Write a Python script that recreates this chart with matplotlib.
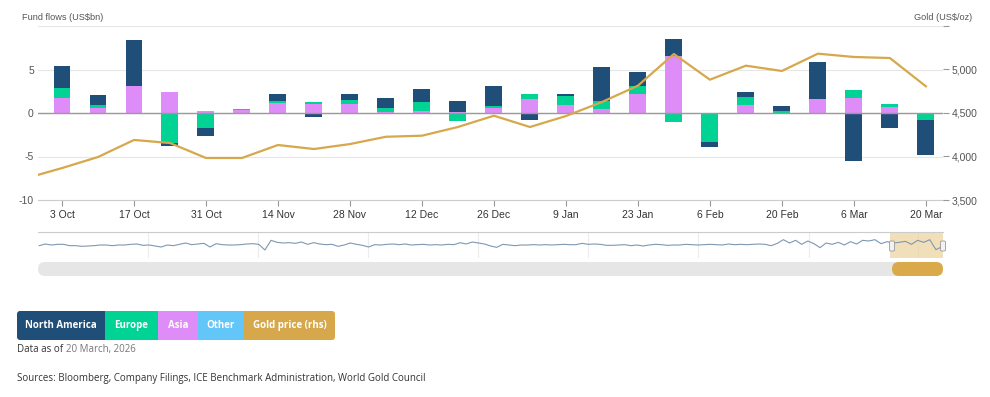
"""Weekly gold ETF fund flows by region with the gold price."""

import matplotlib

matplotlib.use("Agg")
import matplotlib.dates as mdates
import matplotlib.pyplot as plt
import numpy as np
import pandas as pd
from matplotlib.patches import FancyBboxPatch, Rectangle

# weekly flows, US$bn
weeks = pd.to_datetime([
    "2025-10-03", "2025-10-10", "2025-10-17", "2025-10-24", "2025-10-31",
    "2025-11-07", "2025-11-14", "2025-11-21", "2025-11-28",
    "2025-12-05", "2025-12-12", "2025-12-19", "2025-12-26",
    "2026-01-02", "2026-01-09", "2026-01-16", "2026-01-23", "2026-01-30",
    "2026-02-06", "2026-02-13", "2026-02-20", "2026-02-27",
    "2026-03-06", "2026-03-13", "2026-03-20",
])
north_america = [2.6, 1.16, 5.38, -0.35, -1.0, -0.15, 0.73, -0.42, 0.77, 1.15, 1.5, 1.35, 2.24,
                 -0.8, 0.19, 3.92, 1.5, 1.88, -0.65, 0.61, 0.5, 4.23, -5.54, -1.69, -4.0]
europe = [1.12, 0.38, 0.0, -3.42, -1.7, 0.1, 0.3, 0.2, 0.46, 0.42, 1.07, -0.92, 0.24,
          0.54, 1.0, 0.96, 0.92, -0.96, -3.23, 0.85, 0.22, 0.0, 0.92, 0.39, -0.77]
asia = [1.65, 0.5, 3.0, 2.42, 0.27, 0.4, 1.08, 1.08, 0.96, 0.08, 0.2, 0.05, 0.54,
        1.62, 0.92, 0.38, 2.19, 6.58, -0.08, 0.96, 0.05, 1.62, 1.73, 0.69, -0.05]
other = [0.05, 0.03, 0.05, 0.05, 0.0, 0.0, 0.05, 0.0, 0.03, 0.05, 0.0, 0.03, 0.05,
         0.03, 0.02, 0.03, 0.05, -0.05, 0.0, 0.0, 0.0, 0.03, 0.0, 0.0, 0.0]

# gold price, US$/oz (starts one week before the first flow week)
gold_dates = pd.to_datetime(["2025-09-26"]).append(weeks)
gold_price = [3750, 3867, 3994, 4190, 4155, 3983, 3983, 4132, 4086, 4143, 4227, 4239, 4339,
              4469, 4339, 4465, 4626, 4814, 5178, 4883, 5044, 4983, 5182, 5144, 5132, 4807]

# navigator overview line (total flows, rough reading, Jan 2018 - Mar 2026)
nav_flows = [
    -2, 3, 0, 2, 2, -2, -2, -4, -3, -2, 0, 0, -2, 0, 0, 2, 3, -1, 0, -3, -6, 0, -2, 2,
    6, 1, 3, 5, -6, 4, 1, 0, 0, 1, 3, 4, 2, -15, 14, 8, 6, 7, 5, 9, 2, 7, 3,
    1, 2, -4, 0, 6, 2, -1, -6, 1, 0, 2, 3, 1, 3, 0, 1, 2, 0, 1, 0, 2, 1, 7, 3,
    9, 6, 3, -3, -7, 2, 0, -2, 0, 0, 1, 0, 1, 0, 1, 2, 1, 1, 5, 2, 3, 2, -1, -1,
    0, 1, -2, 0, -3, 0, 2, 1, -1, 0, 0, 2, 1, 0, 1, 2, 1, 0, 3, 1, 2, 1, 2, 3,
    2, -2, 5, 16, 6, 14, 2, 12, 4, -8, 6, 2, 8, 0, 10, 3, 14, 12, 16, 4, 10, 6,
    8, 11, 2, 14, 8, 16, -14, -5,
]
nav_dates = pd.date_range("2018-01-05", "2026-03-20", periods=len(nav_flows))

legend_labels = ["North America", "Europe", "Asia", "Other", "Gold price (rhs)"]

C_NA = "#1f4e79"
C_EU = "#00d394"
C_ASIA = "#de8cf8"
C_OTHER = "#62c6f9"
C_GOLD = "#d6a84b"

W, H = 990, 397
FOOT_FONT = ["Open Sans", "DejaVu Sans"]


def fx(px):
    return px / W


def fy(py):
    return 1 - py / H


def main():
    plt.rcParams["font.family"] = ["Liberation Sans", "DejaVu Sans"]
    fig = plt.figure(figsize=(W / 100, H / 100), dpi=100)

    x0, x1 = 38, 943
    ax = fig.add_axes([fx(x0), fy(200), fx(x1) - fx(x0), fy(26) - fy(200)])
    ax2 = ax.twinx()

    xs = mdates.date2num(weeks)
    series = [(other, C_OTHER), (asia, C_ASIA), (europe, C_EU), (north_america, C_NA)]
    pos_base = np.zeros(len(xs))
    neg_base = np.zeros(len(xs))
    for vals, col in series:
        v = np.asarray(vals, dtype=float)
        pos = np.where(v > 0, v, 0)
        neg = np.where(v < 0, v, 0)
        ax.bar(xs, pos, bottom=pos_base, width=3.3, color=col, linewidth=0, zorder=3)
        ax.bar(xs, neg, bottom=neg_base, width=3.3, color=col, linewidth=0, zorder=3)
        pos_base += pos
        neg_base += neg

    ax.set_ylim(-10, 10)
    ax.set_yticks([-10, -5, 0, 5, 10])
    ax.set_yticklabels(["-10", "-5", "0", "5", ""])
    ax.grid(axis="y", color="#e6e6e6", linewidth=0.8, zorder=0)
    ax.axhline(0, color="#9a9a9a", linewidth=1.0, zorder=4)
    ax.set_xlim(mdates.date2num(pd.Timestamp("2025-09-28 08:00")),
                mdates.date2num(pd.Timestamp("2026-03-23 08:00")))
    ax.set_xticks(xs[::2])
    ax.set_xticklabels([f"{d.day} {d:%b}" for d in weeks[::2]])
    for side in ["top", "left", "right"]:
        ax.spines[side].set_visible(False)
    ax.spines["bottom"].set_color("#cccccc")
    ax.tick_params(axis="x", length=4, color="#999999", labelsize=7.5, labelcolor="#333333", pad=3)
    ax.tick_params(axis="y", length=0, labelsize=7.5, labelcolor="#555555", pad=3)

    ax2.plot(mdates.date2num(gold_dates), gold_price, color=C_GOLD, linewidth=1.6, zorder=5)
    ax2.set_ylim(3500, 5500)
    ax2.set_yticks([3500, 4000, 4500, 5000, 5500])
    ax2.set_yticklabels(["3,500", "4,000", "4,500", "5,000", ""])
    ax2.tick_params(axis="y", length=4, color="#999999", labelsize=7.5, labelcolor="#555555", pad=2)
    for side in ["top", "left", "right", "bottom"]:
        ax2.spines[side].set_visible(False)
    # keep the gold line above the bars
    ax2.set_zorder(ax.get_zorder() + 1)
    ax2.patch.set_visible(False)

    fig.text(fx(22), fy(17), "Fund flows (US$bn)", fontsize=6.6, color="#555555", va="center")
    fig.text(fx(972), fy(17), "Gold (US$/oz)", fontsize=6.6, color="#555555", va="center", ha="right")

    # navigator
    nav = fig.add_axes([fx(x0), fy(258), fx(x1) - fx(x0), fy(232) - fy(258)])
    nav.plot(mdates.date2num(nav_dates), nav_flows, color="#7f98b0", linewidth=0.8)
    nav.set_xlim(mdates.date2num(pd.Timestamp("2018-01-01")),
                 mdates.date2num(pd.Timestamp("2026-03-23 08:00")))
    nav.set_ylim(-39, 39)
    years = pd.date_range("2019-01-01", "2026-01-01", freq="YS")
    for y in years:
        nav.axvline(mdates.date2num(y), color="#ececec", linewidth=0.8, zorder=0)
    nav.set_xticks([])
    nav.set_yticks([])
    for side in ["left", "right", "bottom"]:
        nav.spines[side].set_visible(False)
    nav.spines["top"].set_color("#cccccc")
    sel0, sel1 = ax.get_xlim()
    nav.axvspan(sel0, sel1, color="#e9cf94", alpha=0.65, linewidth=0)

    # navigator handles
    for hx in (892, 943):
        fig.patches.append(FancyBboxPatch(
            ((hx - 2.5) / 100, (H - 251) / 100), 5 / 100, 10 / 100,
            boxstyle="round,pad=0,rounding_size=0.012", transform=fig.dpi_scale_trans,
            facecolor="#f2f2f2", edgecolor="#999999", linewidth=0.6, zorder=10))

    # scrollbar
    fig.patches.append(FancyBboxPatch(
        (x0 / 100, (H - 276) / 100), (x1 - x0) / 100, 14 / 100,
        boxstyle="round,pad=0,rounding_size=0.07", transform=fig.dpi_scale_trans,
        facecolor="#e6e6e6", edgecolor="none"))
    fig.patches.append(FancyBboxPatch(
        (892 / 100, (H - 276) / 100), (943 - 892) / 100, 14 / 100,
        boxstyle="round,pad=0,rounding_size=0.07", transform=fig.dpi_scale_trans,
        facecolor="#d9a94a", edgecolor="none"))

    # legend buttons
    edges = [17, 105, 158, 198, 244, 335]
    colors = [C_NA, C_EU, C_ASIA, C_OTHER, C_GOLD]
    top, bot = 311, 340
    for i, (lab, col) in enumerate(zip(legend_labels, colors)):
        left, right = edges[i], edges[i + 1]
        if i in (0, len(colors) - 1):
            fig.patches.append(FancyBboxPatch(
                (left / 100, (H - bot) / 100), (right - left) / 100, (bot - top) / 100,
                boxstyle="round,pad=0,rounding_size=0.03", transform=fig.dpi_scale_trans,
                facecolor=col, edgecolor="none"))
            inner = (right - 5, right) if i == 0 else (left, left + 5)
            fig.patches.append(Rectangle(
                (inner[0] / 100, (H - bot) / 100), 5 / 100, (bot - top) / 100,
                transform=fig.dpi_scale_trans, facecolor=col, edgecolor="none"))
        else:
            fig.patches.append(Rectangle(
                (left / 100, (H - bot) / 100), (right - left) / 100, (bot - top) / 100,
                transform=fig.dpi_scale_trans, facecolor=col, edgecolor="none"))
        fig.text(fx((left + right) / 2), fy((top + bot) / 2), lab, color="white",
                 fontsize=7.0, fontweight="bold", ha="center", va="center", family=FOOT_FONT)

    t = fig.text(fx(17), fy(352), "Data as of ", fontsize=7.0, color="#333333", va="baseline",
                 family=FOOT_FONT)
    fig.canvas.draw()
    bb = t.get_window_extent()
    fig.text(bb.x1 / W, fy(352), "20 March, 2026", fontsize=7.0, color="#777777", va="baseline",
             family=FOOT_FONT)
    fig.text(fx(17), fy(379), "Sources: Bloomberg, Company Filings, ICE Benchmark Administration, "
             "World Gold Council", fontsize=7.0, color="#333333", va="center", family=FOOT_FONT)

    fig.savefig("out.png", dpi=100)
    plt.close(fig)


if __name__ == "__main__":
    main()
